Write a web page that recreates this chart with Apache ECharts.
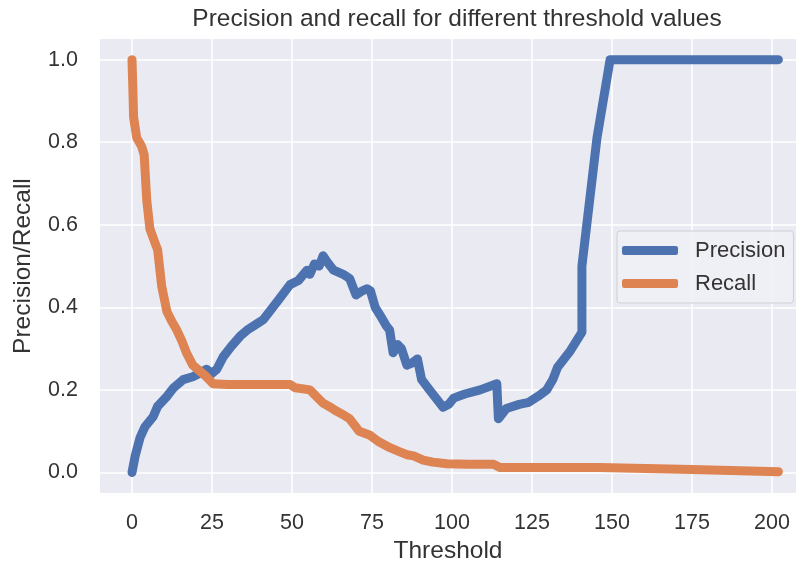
<!DOCTYPE html>
<html>
<head>
<meta charset="utf-8">
<script src="https://cdn.jsdelivr.net/npm/echarts@6/dist/echarts.min.js"></script>
<style>
html,body{margin:0;padding:0;background:#fff;}
#chart{width:796px;height:569px;}
</style>
</head>
<body>
<div id="chart"></div>
<script>
// ---- data ----
const chartTitle = "Precision and recall for different threshold values";
const xAxisTitle = "Threshold";
const yAxisTitle = "Precision/Recall";
const seriesNames = ["Precision", "Recall"];

const xTickValues = [0, 25, 50, 75, 100, 125, 150, 175, 200];
const yTickValues = [0.0, 0.2, 0.4, 0.6, 0.8, 1.0];

const precisionThresholds = [0, 1, 2.5, 4, 6.6, 8, 11, 13, 16, 19, 21, 23.3, 25, 26.5, 28.5, 31, 33.8, 36, 39, 41, 43, 46, 49.4, 52, 54.7, 55.6, 57, 58.5, 59.7, 61, 63, 66, 68, 70, 72, 73.4, 74.5, 76, 78, 79.5, 80.5, 81.6, 83, 84.2, 85.9, 87.5, 89.2, 90.5, 93, 95.5, 97.2, 99, 100.5, 104, 108.8, 114, 114.5, 117, 121, 124, 127, 129.6, 131.5, 133, 135, 137, 139, 140.6, 140.6, 145.3, 149.4, 175, 202];
const precisionValues = [0.00, 0.04, 0.084, 0.11, 0.135, 0.16, 0.185, 0.205, 0.225, 0.232, 0.24, 0.25, 0.24, 0.25, 0.28, 0.305, 0.33, 0.345, 0.36, 0.37, 0.39, 0.42, 0.455, 0.465, 0.49, 0.48, 0.505, 0.50, 0.525, 0.51, 0.49, 0.48, 0.47, 0.43, 0.44, 0.445, 0.44, 0.40, 0.375, 0.355, 0.345, 0.29, 0.31, 0.30, 0.26, 0.265, 0.275, 0.225, 0.20, 0.175, 0.158, 0.165, 0.18, 0.19, 0.20, 0.215, 0.13, 0.155, 0.165, 0.17, 0.185, 0.20, 0.225, 0.255, 0.275, 0.295, 0.32, 0.34, 0.50, 0.81, 1.0, 1.0, 1.0];

const recallThresholds = [0, 0.3, 0.5, 1.5, 3.0, 3.8, 4.6, 5.6, 7.0, 8.0, 9.3, 10.9, 12.5, 14, 15.5, 17, 19, 20.5, 22.8, 25.3, 30, 40, 49.4, 51, 55.6, 57.5, 59.7, 62, 64, 66, 68, 69.5, 71, 74.4, 77, 80.6, 83.7, 86, 88, 91, 94, 98.4, 105, 113, 115, 146, 175, 202];
const recallValues = [1.0, 0.92, 0.86, 0.81, 0.79, 0.77, 0.66, 0.59, 0.56, 0.54, 0.45, 0.39, 0.365, 0.345, 0.32, 0.29, 0.26, 0.25, 0.235, 0.215, 0.213, 0.213, 0.213, 0.205, 0.20, 0.185, 0.168, 0.158, 0.148, 0.14, 0.13, 0.115, 0.10, 0.09, 0.075, 0.06, 0.05, 0.043, 0.04, 0.03, 0.025, 0.021, 0.02, 0.02, 0.012, 0.012, 0.007, 0.002];

// ---- build ----
const pair = (xs, ys) => xs.map((x, i) => [x, ys[i]]);
const textColor = '#333333';
const font = 'Liberation Sans, Arial, sans-serif';

const gridLines = xTickValues.map(v => ({xAxis: v})).concat(yTickValues.map(v => ({yAxis: v})));

const chart = echarts.init(document.getElementById('chart'), null, {renderer: 'canvas'});
chart.setOption({
  backgroundColor: '#ffffff',
  animation: false,
  title: {
    text: chartTitle,
    left: 452, top: 2, textAlign: 'center',
    textStyle: {fontFamily: font, fontSize: 24.5, fontWeight: 'normal', color: textColor}
  },
  grid: {left: 100, top: 39, right: 0, height: 460, backgroundColor: '#EAEAF2', show: true, borderWidth: 0},
  legend: {
    orient: 'vertical', left: 617, top: 231,
    padding: [8, 8, 8, 5], itemGap: 10,
    itemWidth: 56, itemHeight: 9, icon: 'roundRect',
    backgroundColor: 'rgba(240,240,246,0.9)', borderColor: '#CFCFD6', borderWidth: 1, borderRadius: 3,
    textStyle: {fontFamily: font, fontSize: 22, color: textColor, lineHeight: 23, padding: [0, 0, 0, 12]},
    data: seriesNames
  },
  xAxis: {
    type: 'value', min: -10, max: 207.5,
    name: xAxisTitle, nameLocation: 'middle', nameGap: 44,
    nameTextStyle: {fontFamily: font, fontSize: 24.5, color: textColor},
    axisLine: {show: false}, axisTick: {show: false},
    axisLabel: {fontFamily: font, fontSize: 21.5, color: textColor, margin: 19, customValues: xTickValues},
    splitLine: {show: false}
  },
  yAxis: {
    type: 'value', min: -0.05, max: 1.05,
    name: yAxisTitle, nameLocation: 'middle', nameGap: 64,
    nameTextStyle: {fontFamily: font, fontSize: 24.5, color: textColor},
    axisLine: {show: false}, axisTick: {show: false},
    axisLabel: {fontFamily: font, fontSize: 21.5, color: textColor, margin: 22,
      customValues: yTickValues, formatter: v => v.toFixed(1)},
    splitLine: {show: false}
  },
  series: [
    {name: '_grid', type: 'line', data: [], z: 1, silent: true,
     markLine: {silent: true, z: 1, symbol: ['none', 'none'], label: {show: false}, animation: false,
       lineStyle: {color: '#ffffff', width: 1.6, type: 'solid'}, data: gridLines}},
    {name: seriesNames[0], type: 'line', data: pair(precisionThresholds, precisionValues), showSymbol: false, z: 3,
     color: '#4C72B0', lineStyle: {width: 9, cap: 'round', join: 'round'}},
    {name: seriesNames[1], type: 'line', data: pair(recallThresholds, recallValues), showSymbol: false, z: 4,
     color: '#DD8452', lineStyle: {width: 9, cap: 'round', join: 'round'}}
  ]
});
</script>
</body>
</html>
